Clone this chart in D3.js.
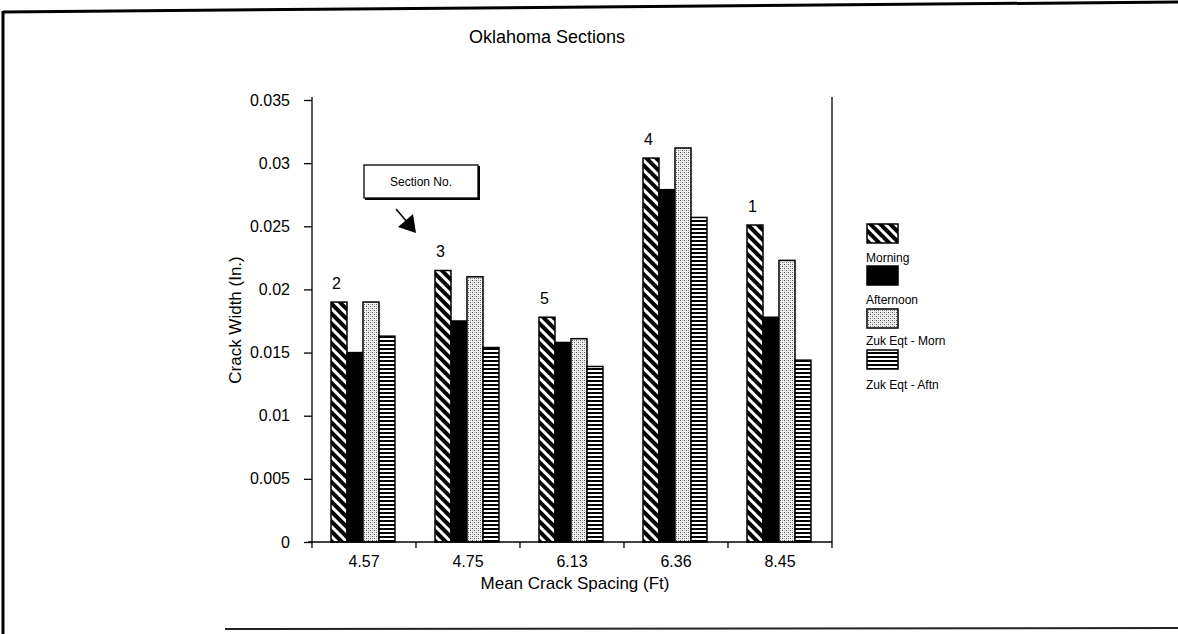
<!DOCTYPE html>
<html>
<head>
<meta charset="utf-8">
<script src="https://cdn.jsdelivr.net/npm/d3@7"></script>
<style>
  html, body { margin: 0; padding: 0; background: #fff; }
  svg { display: block; font-family: "Liberation Sans", Arial, sans-serif; }
</style>
</head>
<body>
<svg id="chart" width="1178" height="634"></svg>
<script>
// ---- data ----
const categories = ["4.57", "4.75", "6.13", "6.36", "8.45"];
const sectionNos = ["2", "3", "5", "4", "1"];
const seriesNames = ["Morning", "Afternoon", "Zuk Eqt - Morn", "Zuk Eqt - Aftn"];
const morning   = [0.0190, 0.0215, 0.0178, 0.0304, 0.0251];
const afternoon = [0.0150, 0.0175, 0.0158, 0.0279, 0.0178];
const zukMorn   = [0.0190, 0.0210, 0.0161, 0.0312, 0.0223];
const zukAftn   = [0.0163, 0.0154, 0.0139, 0.0257, 0.0144];
const yTicks = [0, 0.005, 0.01, 0.015, 0.02, 0.025, 0.03, 0.035];
const yTickLabels = ["0", "0.005", "0.01", "0.015", "0.02", "0.025", "0.03", "0.035"];
const chartTitle = "Oklahoma Sections";
const xTitle = "Mean Crack Spacing (Ft)";
const yTitle = "Crack Width (In.)";
const annotationText = "Section No.";

const seriesValues = [morning, afternoon, zukMorn, zukAftn];

// ---- layout ----
const svg = d3.select("#chart");
const plot = { left: 312, right: 832, top: 100, bottom: 542 };

const x = d3.scaleBand().domain(categories).range([plot.left, plot.right]).padding(0);
const xs = d3.scaleBand().domain(seriesNames).range([19, 83]).padding(0);
const y = d3.scaleLinear().domain([0, 0.035]).range([plot.bottom, plot.top]);

// ---- patterns ----
const defs = svg.append("defs");
const pDiag = defs.append("pattern").attr("id", "pDiag")
  .attr("patternUnits", "userSpaceOnUse").attr("width", 7).attr("height", 7)
  .attr("patternTransform", "rotate(-45)");
pDiag.append("rect").attr("width", 7).attr("height", 7).attr("fill", "#fff");
pDiag.append("rect").attr("width", 4).attr("height", 7).attr("fill", "#000");

const pDots = defs.append("pattern").attr("id", "pDots")
  .attr("patternUnits", "userSpaceOnUse").attr("width", 4).attr("height", 4);
pDots.append("rect").attr("width", 4).attr("height", 4).attr("fill", "#f4f4f4");
pDots.append("rect").attr("x", 0).attr("y", 0).attr("width", 1).attr("height", 1).attr("fill", "#555");
pDots.append("rect").attr("x", 2).attr("y", 2).attr("width", 1).attr("height", 1).attr("fill", "#555");
pDots.append("rect").attr("x", 2).attr("y", 0).attr("width", 1).attr("height", 1).attr("fill", "#aaa");
pDots.append("rect").attr("x", 0).attr("y", 2).attr("width", 1).attr("height", 1).attr("fill", "#aaa");

const pHoriz = defs.append("pattern").attr("id", "pHoriz")
  .attr("patternUnits", "userSpaceOnUse").attr("width", 4).attr("height", 4);
pHoriz.append("rect").attr("width", 4).attr("height", 4).attr("fill", "#fff");
pHoriz.append("rect").attr("width", 4).attr("height", 2).attr("fill", "#000");

const fills = ["url(#pDiag)", "#000", "url(#pDots)", "url(#pHoriz)"];

// ---- outer frame (scanned page border) ----
svg.append("line").attr("x1", 3).attr("y1", 12).attr("x2", 1178).attr("y2", 2)
  .attr("stroke", "#000").attr("stroke-width", 3);
svg.append("line").attr("x1", 3).attr("y1", 11).attr("x2", 3).attr("y2", 634)
  .attr("stroke", "#000").attr("stroke-width", 3);
svg.append("line").attr("x1", 225).attr("y1", 629).attr("x2", 1178).attr("y2", 628)
  .attr("stroke", "#222").attr("stroke-width", 2);

// ---- title ----
svg.append("text").attr("x", 547).attr("y", 43).attr("text-anchor", "middle")
  .attr("font-size", 18).text(chartTitle);

// ---- bars ----
const groups = svg.append("g").selectAll("g").data(categories).join("g")
  .attr("transform", d => `translate(${x(d)},0)`);

groups.each(function (cat, ci) {
  const g = d3.select(this);
  seriesNames.forEach((s, si) => {
    const v = seriesValues[si][ci];
    g.append("rect")
      .attr("x", xs(s))
      .attr("y", y(v))
      .attr("width", xs.bandwidth())
      .attr("height", y(0) - y(v))
      .attr("fill", fills[si])
      .attr("stroke", "#000")
      .attr("stroke-width", 1.5);
  });
  // section number label above the morning bar
  g.append("text")
    .attr("x", xs(seriesNames[0]) + 1)
    .attr("y", y(morning[ci]) - 13)
    .attr("font-size", 16)
    .text(sectionNos[ci]);
});

// ---- axes ----
const yAxis = d3.axisLeft(y).tickValues(yTicks)
  .tickFormat((d, i) => yTickLabels[i]).tickSizeInner(8).tickSizeOuter(0).tickPadding(14);
const gy = svg.append("g").attr("transform", `translate(${plot.left},0)`).call(yAxis);
gy.selectAll("text").attr("font-size", 16).attr("font-family", "Liberation Sans, Arial, sans-serif").attr("fill", "#000");
gy.selectAll("line, path").attr("stroke", "#000").attr("stroke-width", 1.3);
gy.select(".domain").attr("d", `M0,${plot.top - 3}V${plot.bottom}`);

const xAxis = d3.axisBottom(x).tickSize(0).tickPadding(14);
const gx = svg.append("g").attr("transform", `translate(0,${plot.bottom})`).call(xAxis);
gx.selectAll("text").attr("font-size", 16).attr("font-family", "Liberation Sans, Arial, sans-serif").attr("fill", "#000");
gx.select(".domain").attr("stroke", "#000").attr("stroke-width", 1.3)
  .attr("d", `M${plot.left - 4},0H${plot.right}`);
// tick marks at category boundaries
const boundaries = categories.map(c => x(c)).concat([x(categories[categories.length - 1]) + x.bandwidth()]);
gx.selectAll(".bnd").data(boundaries).join("line").attr("class", "bnd")
  .attr("x1", d => d).attr("x2", d => d).attr("y1", 0).attr("y2", 6)
  .attr("stroke", "#000").attr("stroke-width", 1.3);

// right border of plot
svg.append("line").attr("x1", plot.right).attr("x2", plot.right)
  .attr("y1", plot.top - 3).attr("y2", plot.bottom)
  .attr("stroke", "#000").attr("stroke-width", 1.3);

// axis titles
svg.append("text").attr("x", (plot.left + plot.right) / 2 + 3).attr("y", 589)
  .attr("text-anchor", "middle").attr("font-size", 17).text(xTitle);
svg.append("text").attr("transform", "translate(241,320) rotate(-90)")
  .attr("text-anchor", "middle").attr("font-size", 17).text(yTitle);

// ---- annotation ----
const ann = svg.append("g");
ann.append("rect").attr("x", 365).attr("y", 166).attr("width", 115).attr("height", 34).attr("fill", "#000");
ann.append("rect").attr("x", 364).attr("y", 165).attr("width", 114).attr("height", 33)
  .attr("fill", "#fff").attr("stroke", "#000").attr("stroke-width", 1.3);
ann.append("text").attr("x", 421).attr("y", 186).attr("text-anchor", "middle")
  .attr("font-size", 12).text(annotationText);
ann.append("line").attr("x1", 396).attr("y1", 209).attr("x2", 408).attr("y2", 223)
  .attr("stroke", "#000").attr("stroke-width", 1.5);
ann.append("path").attr("d", "M398,227L413,214L416,233Z").attr("fill", "#000");

// ---- legend ----
const legendX = 867;
const swatchTops = [224, 266, 309, 350];
const labelBase = [262, 304, 345, 389];
const leg = svg.append("g");
seriesNames.forEach((s, i) => {
  leg.append("rect").attr("x", legendX).attr("y", swatchTops[i]).attr("width", 31).attr("height", 19)
    .attr("fill", fills[i]).attr("stroke", "#000").attr("stroke-width", 1.5);
  leg.append("text").attr("x", legendX - 1).attr("y", labelBase[i]).attr("font-size", 12).text(s);
});
</script>
</body>
</html>
